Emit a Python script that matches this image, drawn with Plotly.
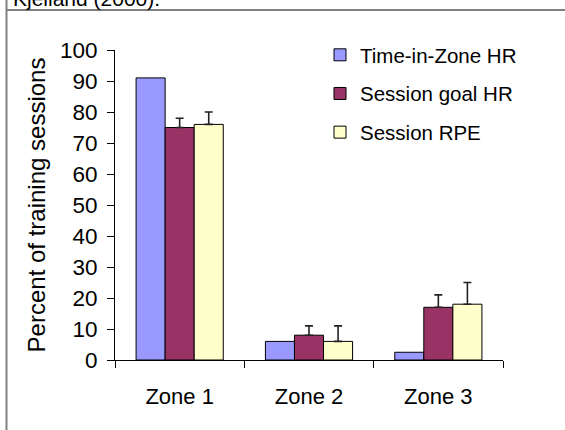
import plotly.graph_objects as go

categories = ["Zone 1", "Zone 2", "Zone 3"]
series_names = ["Time-in-Zone HR", "Session goal HR", "Session RPE"]
time_in_zone_hr = [91, 6, 2.5]
session_goal_hr = [75, 8, 17]
session_rpe = [76, 6, 18]
session_goal_err = [3, 3, 4]
session_rpe_err = [4, 5, 7]
y_ticks = [0, 10, 20, 30, 40, 50, 60, 70, 80, 90, 100]
source_text = "Kjelland (2000)."

colors = ["#9999FF", "#993366", "#FFFFCC"]
FONT = "Liberation Sans, Arial, sans-serif"

fig = go.Figure()
values = [time_in_zone_hr, session_goal_hr, session_rpe]
errors = [None, session_goal_err, session_rpe_err]
for i, (name, vals, err) in enumerate(zip(series_names, values, errors)):
    kw = {}
    if err is not None:
        kw["error_y"] = dict(type="data", array=err, arrayminus=[0] * len(err),
                             symmetric=False, color="#222222", thickness=1.6, width=4)
    fig.add_trace(go.Bar(
        x=categories, y=vals, name=name, legendgroup=f"g{i}",
        marker=dict(color=colors[i], line=dict(color="#000000", width=1)),
        **kw))

L, R, T, B = 115, 62, 50, 70
W, H = 565, 430
pw, ph = W - L - R, H - T - B

def px_x(x):
    return (x - L) / pw

def px_y(y):
    return (H - B - y) / ph

fig.update_layout(
    width=W, height=H,
    margin=dict(l=L, r=R, t=T, b=B, autoexpand=False),
    paper_bgcolor="white", plot_bgcolor="white",
    font=dict(family=FONT, size=22, color="black"),
    barmode="group", bargap=0.326, bargroupgap=0,
    showlegend=True,
    legend=dict(x=px_x(320), y=px_y(35), xanchor="left", yanchor="top",
                font=dict(size=20.5), bgcolor="rgba(0,0,0,0)",
                tracegroupgap=9, itemclick=False),
    xaxis=dict(showline=True, linecolor="black", linewidth=1,
               ticks="outside", tickson="boundaries", ticklen=7, tickcolor="black",
               showgrid=False, ticklabelstandoff=17, fixedrange=True,
               tickfont=dict(size=22)),
    yaxis=dict(title=dict(text="Percent of training sessions", standoff=7,
                          font=dict(size=24)),
               range=[0, 100], tickvals=y_ticks, showline=True, linecolor="black",
               linewidth=1, ticks="outside", ticklen=7, tickcolor="black",
               showgrid=False, zeroline=False, ticklabelstandoff=5, fixedrange=True,
               tickfont=dict(size=22.5)),
    shapes=[
        dict(type="line", xref="paper", yref="paper",
             x0=px_x(6.5), x1=px_x(6.5), y0=px_y(-5), y1=px_y(435),
             line=dict(color="#808080", width=2)),
        dict(type="line", xref="paper", yref="paper",
             x0=px_x(6.5), x1=px_x(570), y0=px_y(10), y1=px_y(10),
             line=dict(color="#808080", width=2)),
    ],
    annotations=[
        dict(text=source_text, xref="paper", yref="paper", x=px_x(11), y=px_y(12),
             xanchor="left", yanchor="bottom", showarrow=False,
             font=dict(size=21, family=FONT, color="black")),
    ],
)

fig.write_html("out.html", config={"displayModeBar": False},
               post_script="document.body.style.margin='0';")
